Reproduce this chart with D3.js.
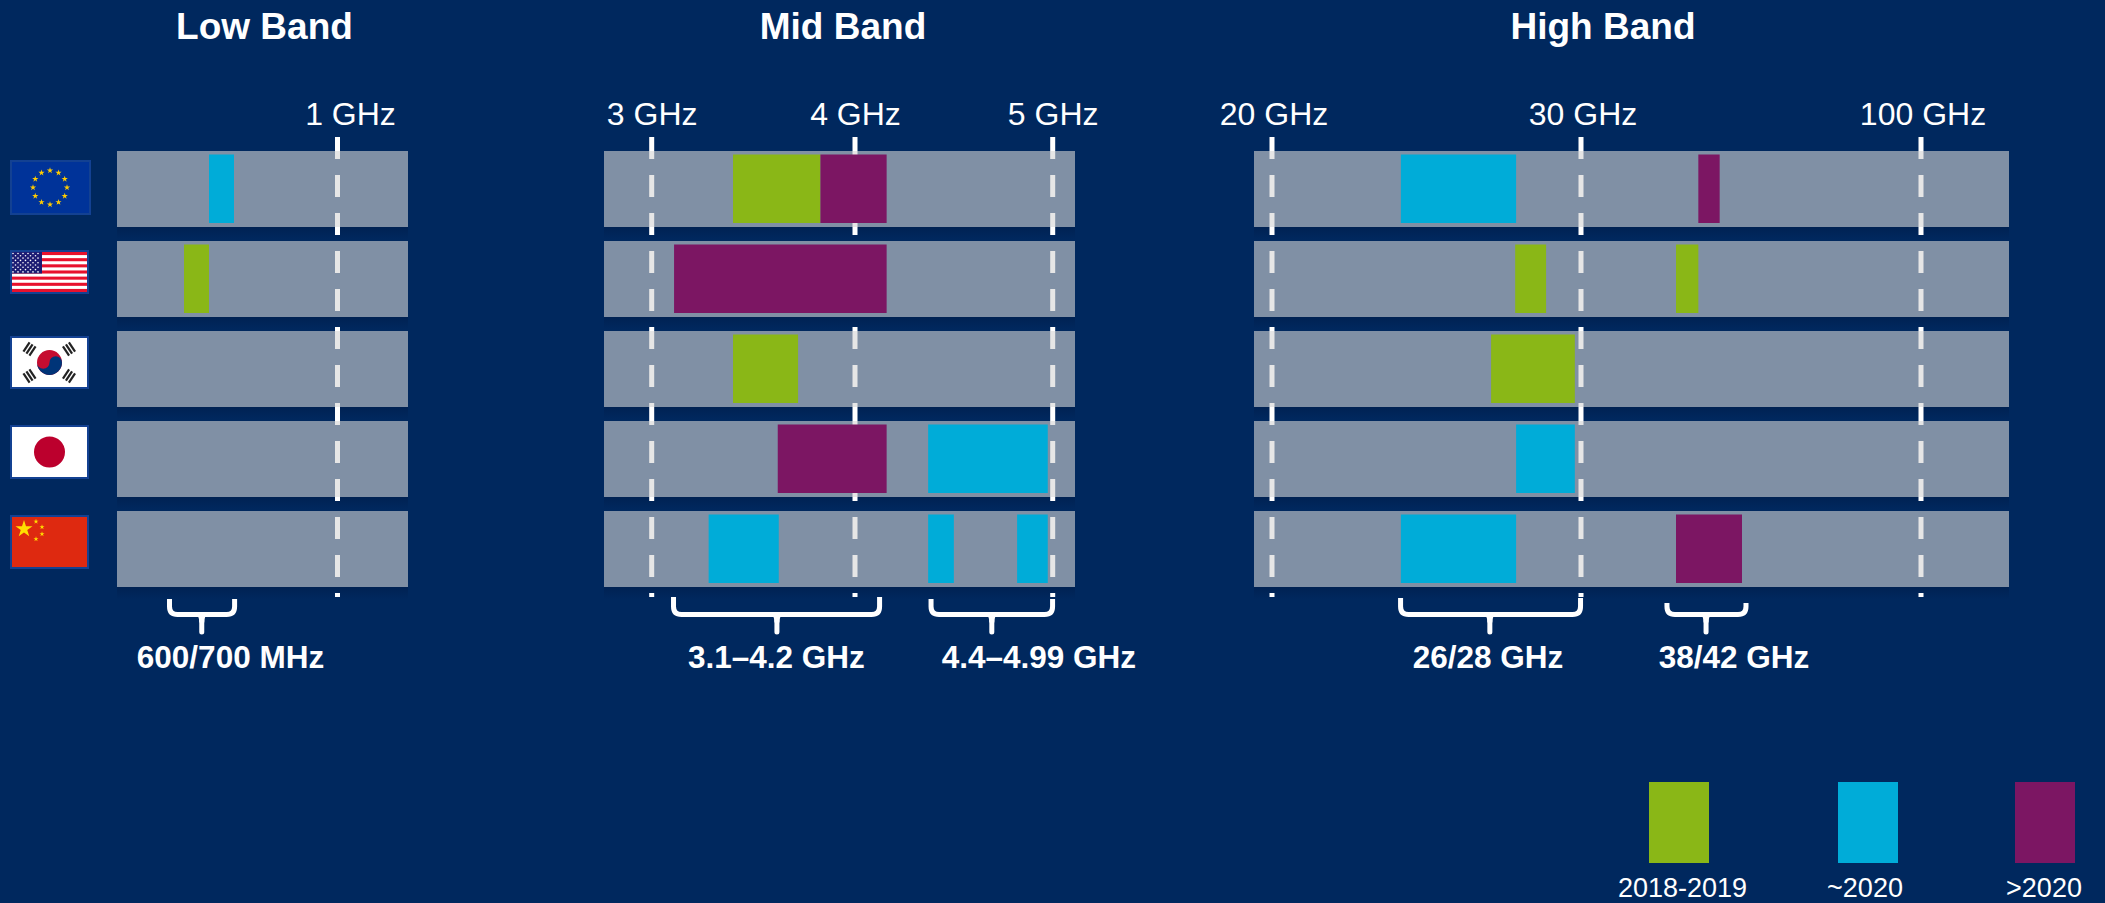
<!DOCTYPE html>
<html>
<head>
<meta charset="utf-8">
<script src="https://cdn.jsdelivr.net/npm/d3@7"></script>
<style>
  html, body { margin: 0; padding: 0; background: #00285e; overflow: hidden; }
  svg { display: block; }
  text { font-family: "Liberation Sans", Arial, sans-serif; fill: #fff; }
  .title { font-size: 37px; font-weight: bold; text-anchor: middle; }
  .tick { font-size: 32px; text-anchor: middle; }
  .brace-label { font-size: 31.5px; font-weight: bold; text-anchor: middle; }
  .legend-label { font-size: 27px; text-anchor: middle; }
</style>
</head>
<body>
<div id="chart"></div>
<script>
var countries = ["EU", "USA", "Korea", "Japan", "China"];
var phases = ["2018-2019", "~2020", ">2020"];
var phaseColors = ["#8ab717", "#00acd8", "#7c1663"];

// low band, MHz
var lowStops = [600, 800, 1000];
var lowTicks = [1000];
var lowTickLabels = ["1 GHz"];
var lowSegments = [
  ["EU", 700, 800, "~2020"],
  ["USA", 600, 700, "2018-2019"]
];
var lowBraces = [[532, 806, 671, 786, "600/700 MHz"]];

// mid band, GHz
var midStops = [3, 4, 5];
var midTicks = [3, 4, 5];
var midTickLabels = ["3 GHz", "4 GHz", "5 GHz"];
var midSegments = [
  ["EU", 3.4, 3.83, "2018-2019"],
  ["EU", 3.83, 4.16, ">2020"],
  ["USA", 3.11, 4.16, ">2020"],
  ["Korea", 3.4, 3.72, "2018-2019"],
  ["Japan", 3.62, 4.16, ">2020"],
  ["Japan", 4.37, 4.975, "~2020"],
  ["China", 3.28, 3.625, "~2020"],
  ["China", 4.37, 4.5, "~2020"],
  ["China", 4.82, 4.975, "~2020"]
];
var midBraces = [
  [3.095, 4.137, 3.616, 3.613, "3.1\u20134.2 GHz"],
  [4.372, 5.012, 4.692, 4.93, "4.4\u20134.99 GHz"]
];

// high band, GHz
var highStops = [20, 30, 37, 43.5, 100];
var highTicks = [20, 30, 100];
var highTickLabels = ["20 GHz", "30 GHz", "100 GHz"];
var highSegments = [
  ["EU", 24.17, 27.9, "~2020"],
  ["EU", 39.2, 41.3, ">2020"],
  ["USA", 27.87, 28.87, "2018-2019"],
  ["USA", 37, 39.2, "2018-2019"],
  ["Korea", 27.09, 29.8, "2018-2019"],
  ["Japan", 27.9, 29.8, "~2020"],
  ["China", 24.17, 27.9, "~2020"],
  ["China", 37, 43.5, ">2020"]
];
var highBraces = [
  [24.08, 30.15, 27.05, 26.99, "26/28 GHz"],
  [36.15, 45.55, 39.96, 42.71, "38/42 GHz"]
];

var width = 2105, height = 903;
var bg = "#00285e";

var svg = d3.select("#chart").append("svg")
  .attr("width", width).attr("height", height);
svg.append("rect").attr("width", width).attr("height", height).attr("fill", bg);

var defs = svg.append("defs");
var grad = defs.append("linearGradient").attr("id", "shade")
  .attr("x1", 0).attr("y1", 0).attr("x2", 0).attr("y2", 1);
grad.append("stop").attr("offset", 0).attr("stop-color", "#001a45").attr("stop-opacity", 0.45);
grad.append("stop").attr("offset", 1).attr("stop-color", "#001a45").attr("stop-opacity", 0);

var y = d3.scaleBand().domain(countries).range([151, 587]).paddingInner(14 / 90);
var color = d3.scaleOrdinal().domain(phases).range(phaseColors);

function drawBand(o) {
  var x = d3.scaleLinear().domain(o.stops).range(o.range);
  var g = svg.append("g");

  g.append("text").attr("class", "title")
    .attr("x", o.titleX).attr("y", 38.5).text(o.title);

  // soft shadow under each strip
  g.selectAll(".shade").data(countries).enter().append("rect")
    .attr("x", o.left).attr("width", o.right - o.left)
    .attr("y", function(d) { return y(d) + y.bandwidth(); })
    .attr("height", 12)
    .attr("fill", "url(#shade)");

  // dashed frequency marks sit under the translucent strips
  g.selectAll(".mark").data(o.ticks).enter().append("line")
    .attr("x1", function(d) { return x(d); })
    .attr("x2", function(d) { return x(d); })
    .attr("y1", 137).attr("y2", 597)
    .attr("stroke", "#fff").attr("stroke-width", 5)
    .attr("stroke-dasharray", "22 16");

  g.selectAll(".tick").data(o.ticks).enter().append("text")
    .attr("class", "tick")
    .attr("x", function(d) { return x(d) + o.labelDx; })
    .attr("y", 125)
    .text(function(d, i) { return o.tickLabels[i]; });

  g.selectAll(".strip").data(countries).enter().append("rect")
    .attr("x", o.left).attr("width", o.right - o.left)
    .attr("y", function(d) { return y(d); })
    .attr("height", y.bandwidth())
    .attr("fill", "#d5d5d5").attr("fill-opacity", 0.6);

  g.selectAll(".seg").data(o.segments).enter().append("rect")
    .attr("x", function(d) { return x(d[1]); })
    .attr("width", function(d) { return x(d[2]) - x(d[1]); })
    .attr("y", function(d) { return y(d[0]) + 3.5; })
    .attr("height", y.bandwidth() - 7.5)
    .attr("fill", function(d) { return color(d[3]); });

  o.braces.forEach(function(b, i) {
    // brace ends were read at their outer edge, so pull the stroke inside
    var x0 = x(b[0]) + 2.5, x1 = x(b[1]) - 2.5, tip = x(b[2]);
    var top = o.braceTops[i], h = 614.5, bot = 632, r = 8;
    g.append("path")
      .attr("d", "M" + x0 + "," + top + "V" + (h - r) + "Q" + x0 + "," + h + " " + (x0 + r) + "," + h +
        "H" + (x1 - r) + "Q" + x1 + "," + h + " " + x1 + "," + (h - r) + "V" + top)
      .attr("fill", "none").attr("stroke", "#fff").attr("stroke-width", 5);
    g.append("line")
      .attr("x1", tip).attr("x2", tip).attr("y1", h).attr("y2", bot)
      .attr("stroke", "#fff").attr("stroke-width", 5).attr("stroke-linecap", "round");
    // little flare where the point leaves the bar
    g.append("path")
      .attr("d", "M" + (tip - 7) + "," + h + "Q" + (tip - 2.5) + "," + h + " " + (tip - 2.5) + "," + (h + 8) +
        "H" + (tip + 2.5) + "Q" + (tip + 2.5) + "," + h + " " + (tip + 7) + "," + h + "Z")
      .attr("fill", "#fff");
    g.append("text").attr("class", "brace-label")
      .attr("x", x(b[3])).attr("y", 668).text(b[4]);
  });
}

drawBand({
  title: "Low Band", titleX: 264.5, left: 117, right: 408,
  stops: lowStops, range: [184, 234, 337.5],
  ticks: lowTicks, tickLabels: lowTickLabels, labelDx: 13,
  segments: lowSegments, braces: lowBraces, braceTops: [599]
});
drawBand({
  title: "Mid Band", titleX: 843, left: 604, right: 1075,
  stops: midStops, range: [651.7, 855, 1052.7],
  ticks: midTicks, tickLabels: midTickLabels, labelDx: 0.5,
  segments: midSegments, braces: midBraces, braceTops: [597, 599]
});
drawBand({
  title: "High Band", titleX: 1603, left: 1254, right: 2009,
  stops: highStops, range: [1272, 1581, 1676, 1742, 1921],
  ticks: highTicks, tickLabels: highTickLabels, labelDx: 2,
  segments: highSegments, braces: highBraces, braceTops: [598, 603]
});

// legend
var legendX = [1649, 1838, 2015];
var legendTextX = [1682.5, 1865, 2044];
var legend = svg.append("g");
legend.selectAll("rect").data(phases).enter().append("rect")
  .attr("x", function(d, i) { return legendX[i]; })
  .attr("y", 782).attr("width", 60).attr("height", 81)
  .attr("fill", function(d) { return color(d); });
legend.selectAll("text").data(phases).enter().append("text")
  .attr("class", "legend-label")
  .attr("x", function(d, i) { return legendTextX[i]; })
  .attr("y", 897)
  .text(function(d) { return d; });

// flags
function flagFrame(top, w, h, fill) {
  var g = svg.append("g").attr("transform", "translate(10," + top + ")");
  g.append("rect").attr("x", 1).attr("y", 1).attr("width", w - 2).attr("height", h - 2)
    .attr("fill", fill).attr("stroke", "#134192").attr("stroke-width", 2);
  return g;
}

function star(g, cx, cy, size, fill) {
  g.append("path")
    .attr("d", d3.symbol().type(d3.symbolStar).size(size)())
    .attr("transform", "translate(" + cx + "," + cy + ")")
    .attr("fill", fill);
}

function drawEU() {
  var g = flagFrame(160, 81, 55, "#003399");
  d3.range(12).forEach(function(i) {
    var a = i / 12 * 2 * Math.PI;
    star(g, 40 + 17 * Math.sin(a), 27.5 - 17 * Math.cos(a), 12, "#ffcc00");
  });
}

function drawUS() {
  var g = flagFrame(250, 79, 44, "#fff");
  var sw = 40 / 13;
  d3.range(13).forEach(function(i) {
    if (i % 2 === 0) {
      g.append("rect").attr("x", 2).attr("y", 2 + i * sw)
        .attr("width", 75).attr("height", sw).attr("fill", "#e8112d");
    }
  });
  g.append("rect").attr("x", 2).attr("y", 2).attr("width", 30).attr("height", 21.5).attr("fill", "#1c1c73");
  d3.range(9).forEach(function(r) {
    d3.range(r % 2 ? 5 : 6).forEach(function(c) {
      g.append("circle").attr("cx", (r % 2 ? 5.5 : 3) + c * 5).attr("cy", 3.5 + r * 2.3)
        .attr("r", 0.8).attr("fill", "#fff");
    });
  });
}

function trigram(g, cx, cy, angle) {
  var t = g.append("g").attr("transform", "translate(" + cx + "," + cy + ") rotate(" + angle + ")");
  [-3.6, 0, 3.6].forEach(function(dy) {
    t.append("rect").attr("x", -5.5).attr("y", dy - 1.1).attr("width", 11).attr("height", 2.2).attr("fill", "#222");
  });
}

function drawKorea() {
  var g = flagFrame(336, 79, 53, "#fff");
  var cx = 39.5, cy = 26.5, r = 12.5;
  g.append("circle").attr("cx", cx).attr("cy", cy).attr("r", r).attr("fill", "#c60c30");
  g.append("path")
    .attr("d", "M" + (cx - r) + "," + cy +
      "A" + r + "," + r + " 0 0 0 " + (cx + r) + "," + cy +
      "A" + (r / 2) + "," + (r / 2) + " 0 0 0 " + cx + "," + cy +
      "A" + (r / 2) + "," + (r / 2) + " 0 0 1 " + (cx - r) + "," + cy + "Z")
    .attr("fill", "#003478");
  trigram(g, 19.5, 13, -56);
  trigram(g, 59, 13, 56);
  trigram(g, 19.5, 40, 56);
  trigram(g, 59, 40, -56);
}

function drawJapan() {
  var g = flagFrame(425, 79, 54, "#fff");
  g.append("circle").attr("cx", 39.5).attr("cy", 27).attr("r", 15.5).attr("fill", "#bc002d");
}

function drawChina() {
  var g = flagFrame(515, 79, 54, "#de2910");
  star(g, 14, 14, 90, "#ffde00");
  star(g, 26, 6.5, 8, "#ffde00");
  star(g, 32, 12, 8, "#ffde00");
  star(g, 32, 19, 8, "#ffde00");
  star(g, 26, 24, 8, "#ffde00");
}

drawEU();
drawUS();
drawKorea();
drawJapan();
drawChina();
</script>
</body>
</html>
